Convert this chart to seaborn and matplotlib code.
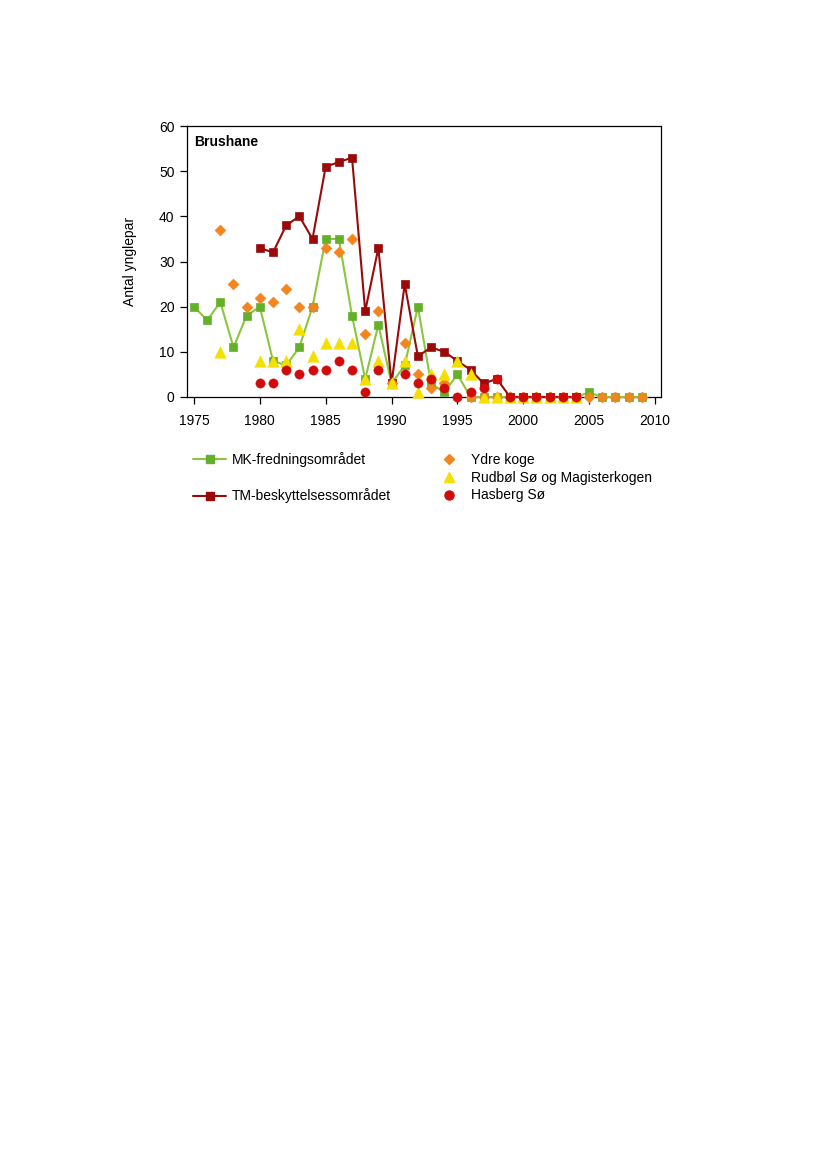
import numpy as np
import pandas as pd
import matplotlib
matplotlib.use("Agg")
import matplotlib.pyplot as plt
from matplotlib.lines import Line2D
import seaborn as sns

# ---- data ----
mk_years = list(range(1975, 2010))
mk_vals = [20, 17, 21, 11, 18, 20, 8, 7, 11, 20, 35, 35, 18, 4, 16, 3, 7, 20, 3, 1,
           5, 0, 0, 0, 0, 0, 0, 0, 0, 0, 1, 0, 0, 0, 0]

tm_years = list(range(1980, 2005))
tm_vals = [33, 32, 38, 40, 35, 51, 52, 53, 19, 33, 3, 25, 9, 11, 10, 8, 6, 3, 4,
           0, 0, 0, 0, 0, 0]

ydre_years = [1977, 1978, 1979, 1980, 1981, 1982, 1983, 1984, 1985, 1986, 1987, 1988,
              1989, 1990, 1991, 1992, 1993, 1994, 1996, 1997, 1998, 1999, 2000, 2001,
              2002, 2003, 2004, 2005, 2006, 2007, 2008, 2009]
ydre_vals = [37, 25, 20, 22, 21, 24, 20, 20, 33, 32, 35, 14, 19, 3, 12, 5, 2, 3,
             0, 0, 0, 0, 0, 0, 0, 0, 0, 0, 0, 0, 0, 0]

rud_years = [1977, 1980, 1981, 1982, 1983, 1984, 1985, 1986, 1987, 1988, 1989, 1990,
             1991, 1992, 1993, 1994, 1995, 1996, 1997, 1998, 1999, 2000, 2001, 2002,
             2003, 2004]
rud_vals = [10, 8, 8, 8, 15, 9, 12, 12, 12, 4, 8, 3, 8, 1, 5, 5, 8, 5, 0, 0, 0, 0,
            0, 0, 0, 0]

has_years = [1980, 1981, 1982, 1983, 1984, 1985, 1986, 1987, 1988, 1989, 1991, 1992,
             1993, 1994, 1995, 1996, 1997, 1998, 1999, 2000, 2001, 2002, 2003, 2004]
has_vals = [3, 3, 6, 5, 6, 6, 8, 6, 1, 6, 5, 3, 4, 2, 0, 1, 2, 4, 0, 0, 0, 0, 0, 0]

x_ticks = [1975, 1980, 1985, 1990, 1995, 2000, 2005, 2010]
y_ticks = [0, 10, 20, 30, 40, 50, 60]

# ---- style ----
sns.set_style("ticks")
plt.rcParams['font.family'] = ['Liberation Sans', 'DejaVu Sans']
plt.rcParams['font.size'] = 10
plt.rcParams['text.color'] = 'black'
plt.rcParams['axes.labelcolor'] = 'black'
plt.rcParams['xtick.color'] = 'black'
plt.rcParams['ytick.color'] = 'black'

GREEN_LINE = "#8cc63f"
GREEN_MK = "#63b02a"
DARKRED = "#9a0a0a"
ORANGE = "#f2861e"
YELLOW = "#f4e000"
RED = "#d10a0a"

fig = plt.figure(figsize=(8.27, 11.69), dpi=100)
ax = fig.add_axes([187/827, 1-397/1169, (661-187)/827, (397-126)/1169])

df_mk = pd.DataFrame({"year": mk_years, "v": mk_vals})
df_tm = pd.DataFrame({"year": tm_years, "v": tm_vals})
df_y = pd.DataFrame({"year": ydre_years, "v": ydre_vals})
df_r = pd.DataFrame({"year": rud_years, "v": rud_vals})
df_h = pd.DataFrame({"year": has_years, "v": has_vals})

sns.lineplot(data=df_mk, x="year", y="v", ax=ax, color=GREEN_LINE, lw=1.5,
             marker="s", markersize=5.8, markerfacecolor=GREEN_MK,
             markeredgecolor=GREEN_MK, markeredgewidth=0.5, clip_on=False, zorder=3)
sns.lineplot(data=df_tm, x="year", y="v", ax=ax, color=DARKRED, lw=1.5,
             marker="s", markersize=5.8, markerfacecolor=DARKRED,
             markeredgecolor=DARKRED, markeredgewidth=0.5, clip_on=False, zorder=4)
sns.scatterplot(data=df_y, x="year", y="v", ax=ax, color=ORANGE, marker="D",
                s=32, edgecolor=ORANGE, linewidth=0.3, clip_on=False, zorder=5)
sns.scatterplot(data=df_r, x="year", y="v", ax=ax, color=YELLOW, marker="^",
                s=70, edgecolor=YELLOW, linewidth=0.3, clip_on=False, zorder=6)
sns.scatterplot(data=df_h, x="year", y="v", ax=ax, color=RED, marker="o",
                s=45, edgecolor=RED, linewidth=0.3, clip_on=False, zorder=7)

ax.set_xlim(1974.47, 2010.46)
ax.set_ylim(0, 60)
ax.set_xticks(x_ticks)
ax.set_yticks(y_ticks)
ax.set_xlabel("")
ax.set_ylabel("Antal ynglepar", fontsize=10, labelpad=16)
for s in ax.spines.values():
    s.set_linewidth(0.9)
    s.set_color("black")
ax.tick_params(direction="out", length=5, width=0.9, labelsize=10)
ax.tick_params(axis="x", pad=7)
ax.tick_params(axis="y", pad=4)
ax.text(0.016, 0.965, "Brushane", transform=ax.transAxes, fontsize=10,
        fontweight="bold", va="top", ha="left")

# ---- legends ----
h_mk = Line2D([], [], color=GREEN_LINE, lw=1.5, marker="s", markersize=6,
              markerfacecolor=GREEN_MK, markeredgecolor=GREEN_MK)
h_tm = Line2D([], [], color=DARKRED, lw=1.5, marker="s", markersize=6,
              markerfacecolor=DARKRED, markeredgecolor=DARKRED)
h_blank = Line2D([], [], color="none")
leg1 = fig.legend([h_mk, h_blank, h_tm],
                  ["MK-fredningsområdet", "", "TM-beskyttelsessområdet"],
                  loc="upper left", bbox_to_anchor=(193/827, 1-452/1169),
                  frameon=False, fontsize=10, handlelength=2.4,
                  handletextpad=0.4, labelspacing=0.27, borderpad=0,
                  borderaxespad=0)
h_y = Line2D([], [], color="none", marker="D", markersize=5.5,
             markerfacecolor=ORANGE, markeredgecolor=ORANGE)
h_r = Line2D([], [], color="none", marker="^", markersize=7.5,
             markerfacecolor=YELLOW, markeredgecolor=YELLOW)
h_h = Line2D([], [], color="none", marker="o", markersize=6.5,
             markerfacecolor=RED, markeredgecolor=RED)
leg2 = fig.legend([h_y, h_r, h_h],
                  ["Ydre koge", "Rudbøl Sø og Magisterkogen", "Hasberg Sø"],
                  loc="upper left", bbox_to_anchor=(432/827, 1-453/1169),
                  frameon=False, fontsize=10, handlelength=2.4,
                  handletextpad=0.4, labelspacing=0.27, borderpad=0,
                  borderaxespad=0)

fig.savefig("out.png", dpi=100)
